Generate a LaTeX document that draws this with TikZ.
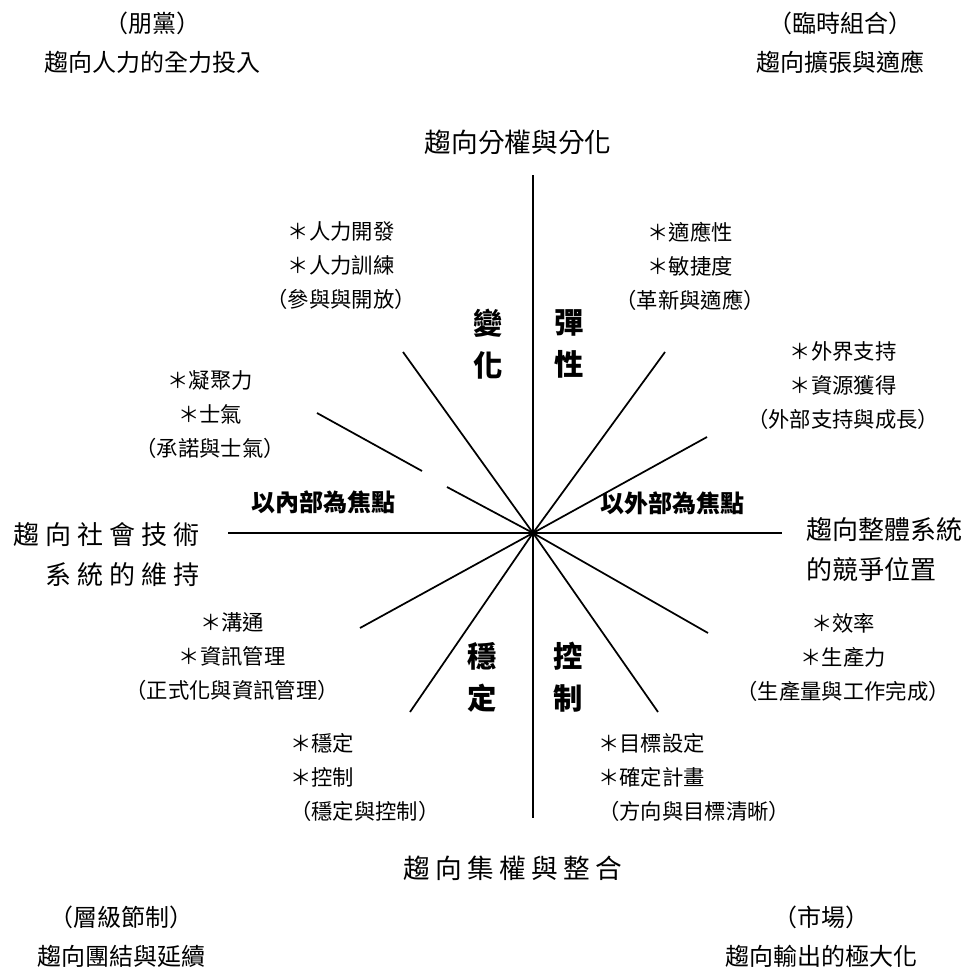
\documentclass[tikz,border=0pt]{standalone}
\usepackage{fontspec}
\setmainfont{Noto Sans CJK TC}
\newcommand{\ls}{\hspace{4.5pt}}
\newcommand{\lsb}{\hspace{4pt}}
\begin{document}
\begin{tikzpicture}[x=0.75pt,y=-0.75pt,
  axis/.style={line width=1.3pt},
  corner/.style={font=\fontsize{18}{29}\selectfont, align=center, inner sep=0pt},
  title/.style={font=\fontsize{20}{30}\selectfont, inner sep=0pt},
  block/.style={font=\fontsize{16}{25.5}\selectfont, align=center, inner sep=0pt},
  lblock/.style={block, align=left, anchor=west},
  quad/.style={font=\fontsize{22}{31.5}\selectfont\bfseries, align=center, inner sep=0pt},
  focus/.style={font=\fontsize{18}{24}\selectfont\bfseries, inner sep=0pt},
  side/.style={font=\fontsize{19.5}{30}\selectfont, inner sep=0pt},
]
\useasboundingbox (0,0) rectangle (976,977);

% corner labels
\node[corner] (tl) at (152,43) {（朋黨）\\趨向人力的全力投入};
\node[corner] (tr) at (840,43) {（臨時組合）\\趨向擴張與適應};
\node[corner] (bl) at (121,937) {（層級節制）\\趨向團結與延續};
\node[corner] (br) at (821,937) {（市場）\\趨向輸出的極大化};

% axis titles
\node[title] (top) at (518,142) {趨向分權與分化};
\node[title] (bottom) at (513,868) {趨\lsb 向\lsb 集\lsb 權\lsb 與\lsb 整\lsb 合};
\node[side, align=right, anchor=east] (left) at (200,555) {趨\ls 向\ls 社\ls 會\ls 技\ls 術\\系\ls 統\ls 的\ls 維\ls 持};
\node[side, align=left, anchor=west] (right) at (806,550) {趨向整體系統\\的競爭位置};

% quadrant names
\node[quad] (q1) at (488,344) {變\\化};
\node[quad] (q2) at (569,344) {彈\\性};
\node[quad] (q3) at (482,677) {穩\\定};
\node[quad] (q4) at (568,677) {控\\制};

% focus labels
\node[focus] (inner) at (323,502) {以內部為焦點};
\node[focus] (outer) at (672,503) {以外部為焦點};

% criteria blocks
\node[block] (b1) at (341,266) {＊人力開發\\＊人力訓練\\（參與與開放）};
\node[block] (b2) at (690,266) {＊適應性\\＊敏捷度\\（革新與適應）};
\node[block] (b3) at (843,386) {＊外界支持\\＊資源獲得\\（外部支持與成長）};
\node[block] (b4) at (210,415) {＊凝聚力\\＊士氣\\（承諾與士氣）};
\node[block] (b5) at (232,657) {＊溝通\\＊資訊管理\\（正式化與資訊管理）};
\node[block] (b6) at (843,657) {＊效率\\＊生產力\\（生產量與工作完成）};
\node[lblock] (b7) at (290,777) {＊穩定\\＊控制\\（穩定與控制）};
\node[lblock] (b8) at (598,777) {＊目標設定\\＊確定計畫\\（方向與目標清晰）};

% spokes
\coordinate (C) at (533,533);
\coordinate (N) at (533,175);
\coordinate (S) at (533,818);
\coordinate (W) at (228,533);
\coordinate (E) at (782,533);
\coordinate (nw1) at (403,352);
\coordinate (ne1) at (665,352);
\coordinate (sw1) at (410,712);
\coordinate (se1) at (658,712);
\coordinate (ne2) at (707,437);
\coordinate (se2) at (708,633);
\coordinate (sw2) at (360,628);
\coordinate (nw2a) at (317,413);
\coordinate (nw2b) at (422,471);
\coordinate (nw2c) at (447,487);

\draw[axis] (N) -- (S);
\draw[axis] (W) -- (E);
\draw[axis] (C) -- (nw1);
\draw[axis] (C) -- (ne1);
\draw[axis] (C) -- (sw1);
\draw[axis] (C) -- (se1);
\draw[axis] (C) -- (ne2);
\draw[axis] (C) -- (se2);
\draw[axis] (C) -- (sw2);
\draw[axis] (C) -- (nw2c);
\draw[axis] (nw2b) -- (nw2a);
\end{tikzpicture}
\end{document}
